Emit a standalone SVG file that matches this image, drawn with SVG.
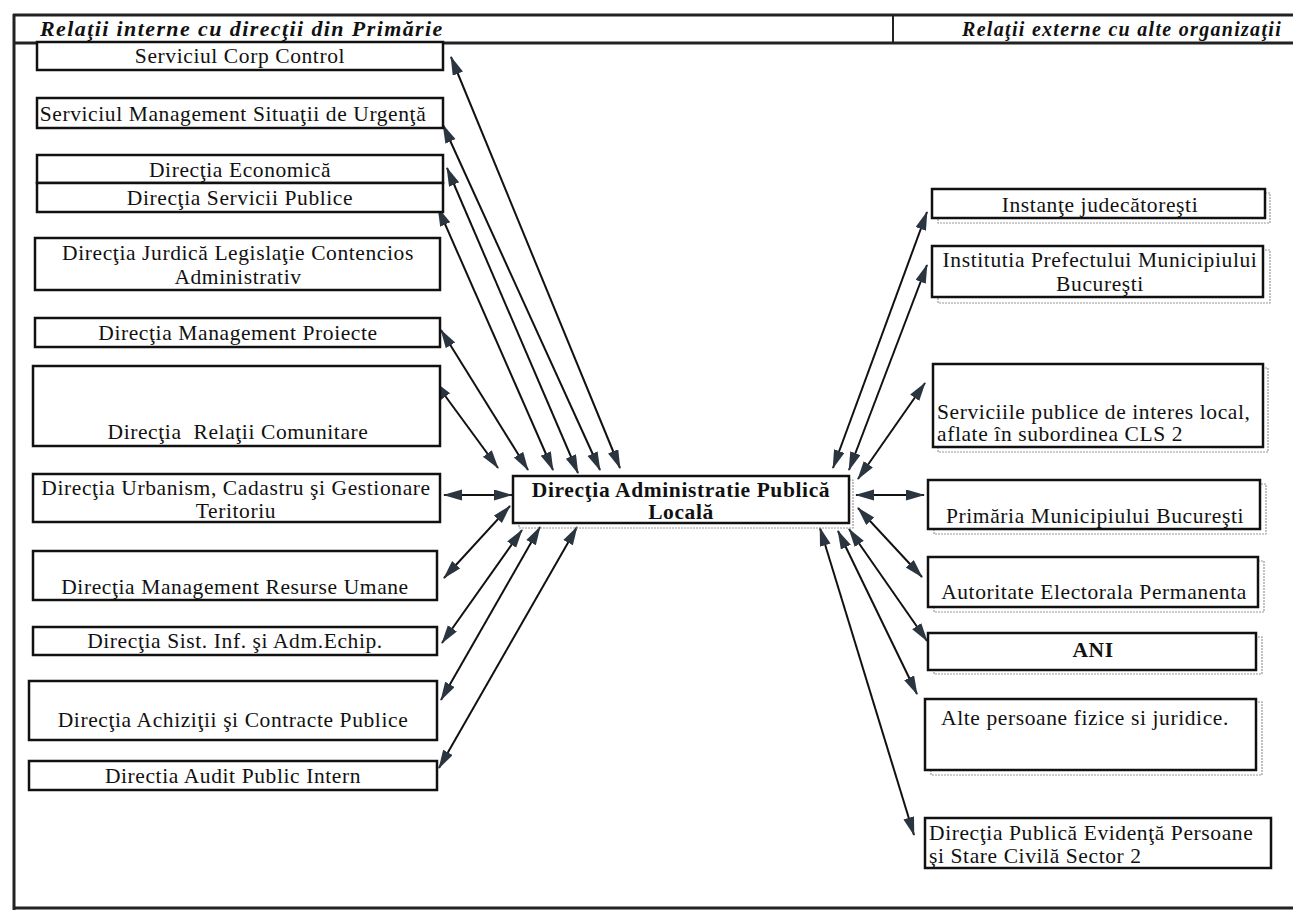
<svg xmlns="http://www.w3.org/2000/svg" width="1293" height="921" viewBox="0 0 1293 921">
<style>
.frame{fill:none;stroke:#222;stroke-width:3}
.box{fill:#fff;stroke:#111;stroke-width:2.5}
.shadow{fill:none;stroke:#999;stroke-width:1.2;stroke-dasharray:2 1}
.t{font-family:"Liberation Serif","Times New Roman",serif;font-size:21.5px;letter-spacing:0.6px;fill:#111;text-anchor:middle}
.l{text-anchor:start}
.b{font-weight:bold}
.h{font-family:"Liberation Serif","Times New Roman",serif;font-weight:bold;font-style:italic;fill:#111}
.c{stroke:#111;stroke-width:2;fill:none;marker-start:url(#ah);marker-end:url(#ah)}
</style>
<defs>
<marker id="ah" markerUnits="userSpaceOnUse" markerWidth="19" markerHeight="13" refX="18" refY="5.5" orient="auto-start-reverse">
<path d="M0,0 L19,5.5 L0,11 Z" fill="#2b3540"/>
</marker>
</defs>
<rect width="1293" height="921" fill="#fff"/>
<g id="frame">
<line class="frame" x1="13" y1="15" x2="1293" y2="15"/>
<line class="frame" x1="13" y1="43" x2="1293" y2="43"/>
<line class="frame" x1="14" y1="14" x2="14" y2="910"/>
<line class="frame" x1="13" y1="908" x2="1293" y2="908"/>
<line stroke="#222" stroke-width="2" x1="893" y1="15" x2="893" y2="43"/>
<text class="h" x="40" y="36" font-size="22" letter-spacing="1.4">Relaţii interne cu direcţii din Primărie</text>
<text class="h" x="1282" y="36" font-size="20" letter-spacing="1.3" text-anchor="end">Relaţii externe cu alte organizaţii</text>
</g>
<g id="connectors">
<line class="c" x1="451" y1="57" x2="620" y2="468"/>
<line class="c" x1="443" y1="125" x2="600" y2="470"/>
<line class="c" x1="447" y1="168" x2="578" y2="473"/>
<line class="c" x1="438" y1="208" x2="553" y2="470"/>
<line class="c" x1="441" y1="330" x2="528" y2="470"/>
<line class="c" x1="435" y1="382" x2="498" y2="468"/>
<line class="c" x1="444" y1="495" x2="512" y2="495"/>
<line class="c" x1="444" y1="578" x2="510" y2="506"/>
<line class="c" x1="442" y1="643" x2="522" y2="530"/>
<line class="c" x1="441" y1="700" x2="540" y2="527"/>
<line class="c" x1="439" y1="768" x2="577" y2="527"/>
<line class="c" x1="927" y1="212" x2="833" y2="468"/>
<line class="c" x1="927" y1="265" x2="849" y2="470"/>
<line class="c" x1="925" y1="383" x2="858" y2="479"/>
<line class="c" x1="856" y1="495" x2="924" y2="495"/>
<line class="c" x1="922" y1="577" x2="858" y2="508"/>
<line class="c" x1="927" y1="641" x2="849" y2="529"/>
<line class="c" x1="917" y1="694" x2="838" y2="531"/>
<line class="c" x1="914" y1="835" x2="820" y2="528"/>
</g>
<g id="n-corp-control"><rect class="box" x="37" y="42" width="406" height="28"/><text class="t" x="240" y="63">Serviciul Corp Control</text></g>
<g id="n-smsu"><rect class="box" x="37" y="98" width="406" height="30"/><text class="t" x="233" y="121">Serviciul Management Situaţii de Urgenţă</text></g>
<g id="n-economica"><rect class="box" x="37" y="155" width="406" height="28"/><text class="t" x="240" y="177">Direcţia Economică</text></g>
<g id="n-servicii-publice"><rect class="box" x="37" y="183" width="406" height="29"/><text class="t" x="240" y="205">Direcţia Servicii Publice</text></g>
<g id="n-juridica"><rect class="box" x="35" y="238" width="405" height="52"/><text class="t" x="238" y="260">Direcţia Jurdică Legislaţie Contencios</text><text class="t" x="238" y="284">Administrativ</text></g>
<g id="n-mgmt-proiecte"><rect class="box" x="35" y="318" width="405" height="29"/><text class="t" x="238" y="340">Direcţia Management Proiecte</text></g>
<g id="n-relatii-comunitare"><rect class="box" x="33" y="366" width="407" height="80"/><text class="t" x="238" y="439" xml:space="preserve">Direcţia  Relaţii Comunitare</text></g>
<g id="n-urbanism"><rect class="box" x="33" y="474" width="407" height="48"/><text class="t" x="236" y="495">Direcţia Urbanism, Cadastru şi Gestionare</text><text class="t" x="236" y="518">Teritoriu</text></g>
<g id="n-resurse-umane"><rect class="box" x="33" y="551" width="404" height="49"/><text class="t" x="235" y="594">Direcţia Management Resurse Umane</text></g>
<g id="n-sist-inf"><rect class="box" x="33" y="627" width="404" height="28"/><text class="t" x="235" y="648">Direcţia Sist. Inf. şi Adm.Echip.</text></g>
<g id="n-achizitii"><rect class="box" x="29" y="681" width="408" height="59"/><text class="t" x="233" y="727">Direcţia Achiziţii şi Contracte Publice</text></g>
<g id="n-audit"><rect class="box" x="29" y="761" width="408" height="29"/><text class="t" x="233" y="783">Directia Audit Public Intern</text></g>
<g id="n-dapl"><rect class="shadow" x="519" y="480" width="334" height="48"/><rect class="box" x="513" y="476" width="336" height="47"/><text class="t b" x="681" y="497" font-size="21">Direcţia Administratie Publică</text><text class="t b" x="681" y="519" font-size="21">Locală</text></g>
<g id="n-instante"><rect class="shadow" x="938" y="193" width="332" height="30"/><rect class="box" x="932" y="189" width="333" height="29"/><text class="t" x="1100" y="212">Instanţe judecătoreşti</text></g>
<g id="n-prefectura"><rect class="shadow" x="938" y="250" width="332" height="53"/><rect class="box" x="932" y="246" width="331" height="51"/><text class="t" x="1100" y="267" letter-spacing="0.8">Institutia Prefectului Municipiului</text><text class="t" x="1100" y="291">Bucureşti</text></g>
<g id="n-servicii-cls2"><rect class="shadow" x="938" y="368" width="330" height="84"/><rect class="box" x="933" y="364" width="330" height="83"/><text class="t l" x="937" y="419" letter-spacing="0.3">Serviciile publice de interes local,</text><text class="t l" x="937" y="441" letter-spacing="0.3">aflate în subordinea CLS 2</text></g>
<g id="n-pmb"><rect class="shadow" x="934" y="484" width="332" height="50"/><rect class="box" x="928" y="480" width="332" height="49"/><text class="t" x="1095" y="523">Primăria Municipiului Bucureşti</text></g>
<g id="n-aep"><rect class="shadow" x="934" y="561" width="330" height="51"/><rect class="box" x="928" y="557" width="330" height="50"/><text class="t" x="1094" y="599" font-size="21" letter-spacing="0">Autoritate Electorala Permanenta</text></g>
<g id="n-ani"><rect class="shadow" x="934" y="637" width="328" height="37"/><rect class="box" x="928" y="633" width="328" height="37"/><text class="t b" x="1093" y="657">ANI</text></g>
<g id="n-alte"><rect class="shadow" x="931" y="702" width="331" height="73"/><rect class="box" x="925" y="699" width="331" height="71"/><text class="t" x="1085" y="725" font-size="20.5" letter-spacing="0">Alte persoane fizice si juridice.</text></g>
<g id="n-dpeps"><rect class="box" x="925" y="818" width="346" height="50"/><text class="t l" x="929" y="840">Direcţia Publică Evidenţă Persoane</text><text class="t l" x="929" y="863">şi Stare Civilă Sector 2</text></g>
</svg>
